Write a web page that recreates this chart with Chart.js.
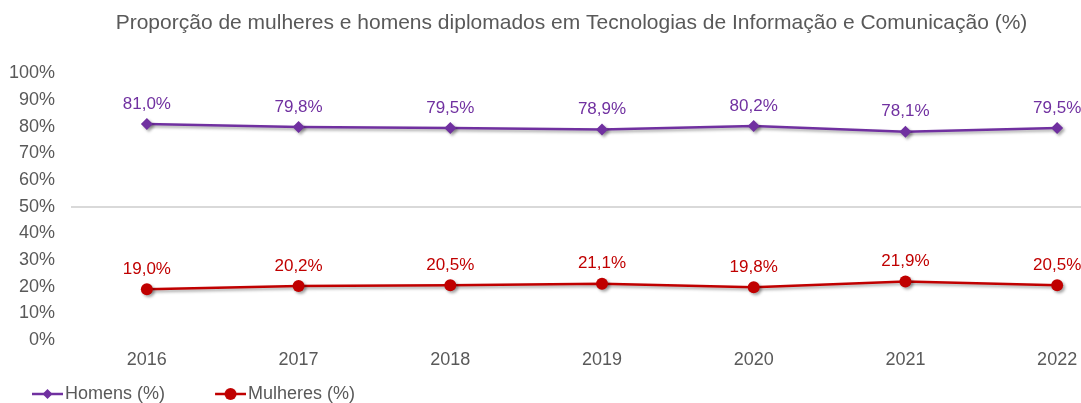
<!DOCTYPE html>
<html>
<head>
<meta charset="utf-8">
<script src="https://cdn.jsdelivr.net/npm/chart.js@4.4.1/dist/chart.umd.min.js"></script>
<style>
  body { margin: 0; background: #fff; overflow: hidden; }
  #wrap { width: 1140px; height: 403px; position: relative; }
</style>
</head>
<body>
<div id="wrap"><canvas id="myChart"></canvas></div>
<script>
const years = ['2016', '2017', '2018', '2019', '2020', '2021', '2022'];
const homens = [81.0, 79.8, 79.5, 78.9, 80.2, 78.1, 79.5];
const mulheres = [19.0, 20.2, 20.5, 21.1, 19.8, 21.9, 20.5];
const seriesNames = ['Homens (%)', 'Mulheres (%)'];
const chartTitle = 'Proporção de mulheres e homens diplomados em Tecnologias de Informação e Comunicação (%)';

const purple = '#7030A0';
const red = '#C00000';
const grey = '#595959';
const font = "'Liberation Sans', Arial, sans-serif";

const myChartElement = document.getElementById('myChart');

// small line + marker picture used as legend symbol
function legendIcon(color, style, radius) {
  const c = document.createElement('canvas');
  c.width = 50;
  c.height = 16;
  const ctx = c.getContext('2d');
  ctx.strokeStyle = color;
  ctx.fillStyle = color;
  ctx.lineWidth = 2.5;
  ctx.beginPath();
  ctx.moveTo(19, 8);
  ctx.lineTo(50, 8);
  ctx.stroke();
  ctx.beginPath();
  if (style == 'rectRot') {
    ctx.moveTo(34.5, 8 - radius);
    ctx.lineTo(34.5 + radius, 8);
    ctx.lineTo(34.5, 8 + radius);
    ctx.lineTo(34.5 - radius, 8);
    ctx.closePath();
  } else {
    ctx.arc(34.5, 8, radius, 0, Math.PI * 2);
  }
  ctx.fill();
  return c;
}

const shadowPlugin = {
  id: 'lineShadow',
  beforeDatasetDraw(chart) {
    const ctx = chart.ctx;
    ctx.save();
    ctx.shadowColor = 'rgba(0, 0, 0, 0.35)';
    ctx.shadowBlur = 3;
    ctx.shadowOffsetX = 2;
    ctx.shadowOffsetY = 2;
  },
  afterDatasetDraw(chart) {
    chart.ctx.restore();
  }
};

const valueLabels = {
  id: 'valueLabels',
  afterDatasetsDraw(chart) {
    const ctx = chart.ctx;
    ctx.save();
    ctx.font = '17px ' + font;
    ctx.textAlign = 'center';
    ctx.textBaseline = 'middle';
    chart.data.datasets.forEach((ds, i) => {
      const meta = chart.getDatasetMeta(i);
      ctx.fillStyle = ds.borderColor;
      meta.data.forEach((pt, j) => {
        const txt = ds.data[j].toFixed(1).replace('.', ',') + '%';
        ctx.fillText(txt, pt.x, pt.y - 20);
      });
    });
    ctx.restore();
  }
};

let myDataset = [
  {
    label: seriesNames[0],
    data: homens,
    borderColor: purple,
    backgroundColor: purple,
    borderWidth: 2.5,
    tension: 0,
    pointStyle: 'rectRot',
    pointRadius: 6,
    pointHoverRadius: 6,
    pointBorderWidth: 0
  },
  {
    label: seriesNames[1],
    data: mulheres,
    borderColor: red,
    backgroundColor: red,
    borderWidth: 2.5,
    tension: 0,
    pointStyle: 'circle',
    pointRadius: 6,
    pointHoverRadius: 6,
    pointBorderWidth: 0
  }
];

let legendIcons = [legendIcon(purple, 'rectRot', 5), legendIcon(red, 'circle', 6)];

let myOptions = {
  maintainAspectRatio: false,
  responsive: true,
  animation: false,
  layout: {
    padding: { left: 10, right: 7, top: 0, bottom: -10 }
  },
  plugins: {
    title: {
      display: true,
      text: chartTitle,
      color: grey,
      font: { family: font, size: 21, weight: 'normal' },
      padding: { top: 11, bottom: 37 }
    },
    legend: {
      position: 'bottom',
      align: 'start',
      labels: {
        color: grey,
        font: { family: font, size: 18 },
        usePointStyle: true,
        pointStyleWidth: 36,
        padding: 10,
        generateLabels(chart) {
          let items = Chart.defaults.plugins.legend.labels.generateLabels(chart);
          items.forEach((item, i) => {
            item.pointStyle = legendIcons[i];
            if (i == 0) item.text = item.text + '\u2003  ';
          });
          return items;
        }
      }
    },
    tooltip: { enabled: false }
  },
  scales: {
    y: {
      min: 0,
      max: 100,
      ticks: {
        stepSize: 10,
        color: grey,
        padding: 16,
        font: { family: font, size: 18 },
        callback: (v) => v + '%'
      },
      grid: {
        drawTicks: false,
        color: (c) => c.tick && c.tick.value == 50 ? '#d9d9d9' : 'rgba(0,0,0,0)',
        lineWidth: 2
      },
      border: { display: false },
      afterFit: (scale) => { scale.width = 61; }
    },
    x: {
      offset: true,
      ticks: {
        color: grey,
        padding: 9,
        font: { family: font, size: 18 }
      },
      grid: { display: false, drawTicks: false },
      border: { display: false },
      afterFit: (scale) => { scale.height = 35; }
    }
  }
};

let myChart = new Chart(myChartElement, {
  type: 'line',
  data: {
    labels: years,
    datasets: myDataset
  },
  options: myOptions,
  plugins: [shadowPlugin, valueLabels]
});
</script>
</body>
</html>
